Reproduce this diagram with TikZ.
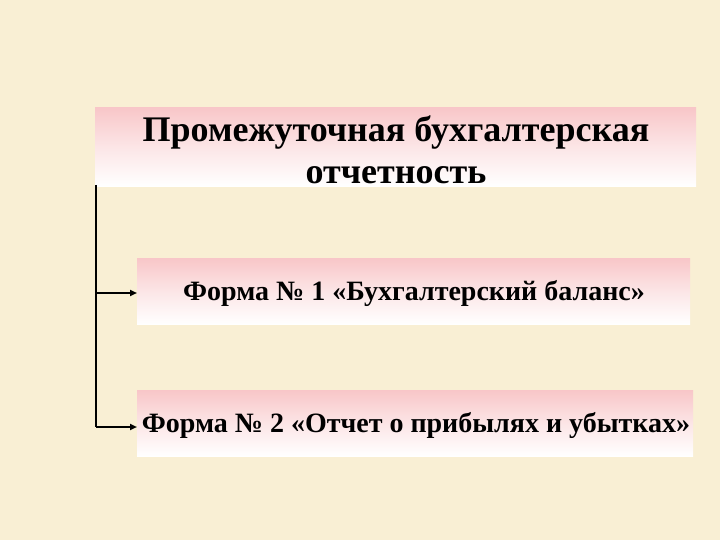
\documentclass[tikz,border=0pt]{standalone}
\usepackage{fontspec}
\setmainfont{Liberation Serif}
\usetikzlibrary{arrows.meta}
\definecolor{bg}{RGB}{249,239,212}
\definecolor{pinktop}{RGB}{248,198,200}
\tikzset{
  band/.style={anchor=north west, inner sep=0pt, top color=pinktop, bottom color=white, middle color=pinktop!45!white, draw=none},
  conn/.style={line width=1.8pt, black},
  arr/.style={conn, -{Triangle[length=7pt,width=6pt]}}
}
\begin{document}
\begin{tikzpicture}[x=1pt,y=-1pt]
\fill[bg] (0,0) rectangle (720,540);
\useasboundingbox (0,0) rectangle (720,540);
\node[band, minimum width=601pt, minimum height=79pt] (t) at (95,107) {};
\node[font=\fontsize{36}{42}\selectfont\bfseries, align=center] (tt) at (396,150) {Промежуточная бухгалтерская\\отчетность};
\node[band, minimum width=553pt, minimum height=66pt] (b1) at (137,258) {};
\node[font=\fontsize{28}{32}\selectfont\bfseries] (b1t) at (414,293) {Форма № 1 «Бухгалтерский баланс»};
\node[band, minimum width=556pt, minimum height=66pt] (b2) at (137,390) {};
\node[font=\fontsize{28}{32}\selectfont\bfseries] (b2t) at (416,425) {Форма № 2 «Отчет о прибылях и убытках»};
\coordinate (top) at (96,185);
\coordinate (j1) at (96,293);
\coordinate (j2) at (96,427);
\draw[conn] (top) -- (j2);
\draw[arr] (j1) -- (b1.west |- j1);
\draw[arr] (j2) -- (b2.west |- j2);
\end{tikzpicture}
\end{document}
